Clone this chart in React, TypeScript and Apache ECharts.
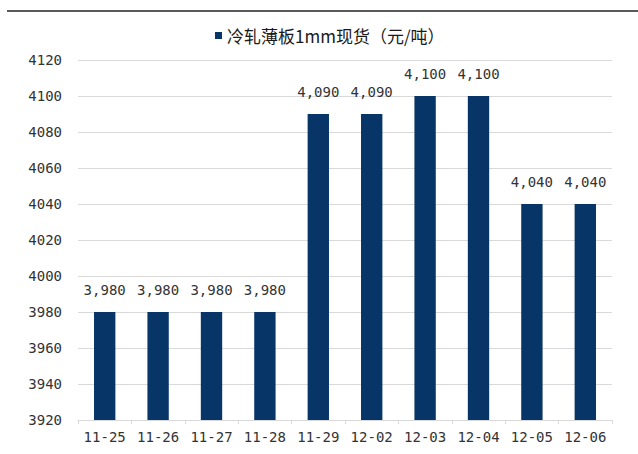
import React, { useEffect, useRef } from "react";
import * as echarts from "echarts";

const categories = ["11-25", "11-26", "11-27", "11-28", "11-29", "12-02", "12-03", "12-04", "12-05", "12-06"];
const prices = [3980, 3980, 3980, 3980, 4090, 4090, 4100, 4100, 4040, 4040];
const seriesName = "冷轧薄板1mm现货（元/吨）";
const yMin = 3920;
const yMax = 4120;
const yStep = 20;

const FONT = "'Noto Sans CJK SC', 'Noto Sans', sans-serif";
const NUM_FONT = "'DejaVu Sans Mono', 'Liberation Mono', monospace";

export default function App() {
  const ref = useRef<HTMLDivElement>(null);

  useEffect(() => {
    document.body.style.margin = "0";
    const chart = echarts.init(ref.current!, undefined, { renderer: "svg" });
    chart.setOption({
      animation: false,
      backgroundColor: "#ffffff",
      textStyle: { fontFamily: FONT },
      graphic: [
        {
          type: "line",
          shape: { x1: 7, y1: 11, x2: 638, y2: 11 },
          style: { stroke: "#5a5a5a", lineWidth: 2 },
        },
      ],
      legend: {
        top: 27,
        left: 215,
        padding: 0,
        itemWidth: 7,
        itemHeight: 7,
        itemGap: 10,
        icon: "rect",
        textStyle: { fontSize: 17, color: "#1a1a1a", fontFamily: FONT },
        data: [seriesName],
      },
      grid: { left: 78, right: 26, top: 60, bottom: 34, containLabel: false },
      xAxis: {
        type: "category",
        data: categories,
        axisLine: { lineStyle: { color: "#d9d9d9", width: 1 } },
        axisTick: { show: true, length: 4, lineStyle: { color: "#d9d9d9" } },
        axisLabel: { interval: 0, fontSize: 14, color: "#333333", margin: 10, fontFamily: NUM_FONT },
      },
      yAxis: {
        type: "value",
        min: yMin,
        max: yMax,
        interval: yStep,
        axisLine: { show: false },
        axisTick: { show: false },
        splitLine: { lineStyle: { color: "#d9d9d9", width: 1 } },
        axisLabel: {
          fontSize: 14,
          color: "#333333",
          margin: 16,
          fontFamily: NUM_FONT,
          formatter: (v: number) => String(v),
        },
      },
      series: [
        {
          name: seriesName,
          type: "bar",
          data: prices,
          barWidth: "40%",
          itemStyle: { color: "#073568" },
          label: {
            show: true,
            position: "top",
            distance: 15,
            fontSize: 14,
            color: "#333333",
            fontFamily: NUM_FONT,
            formatter: (p: any) => Number(p.value).toLocaleString("en-US"),
          },
        },
      ],
    });
    return () => chart.dispose();
  }, []);

  return <div ref={ref} style={{ width: 638, height: 454 }} />;
}
